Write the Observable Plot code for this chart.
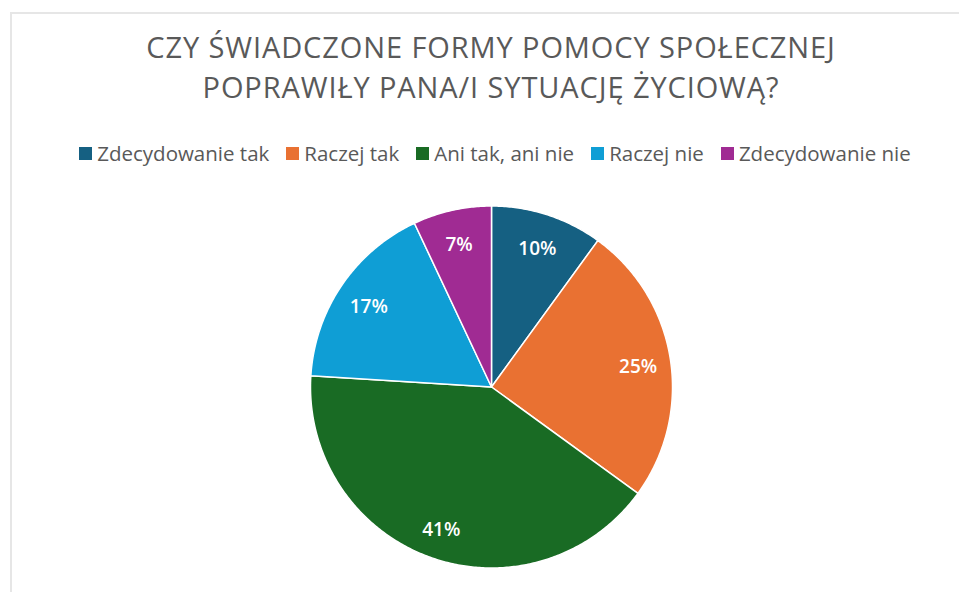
<!DOCTYPE html>
<html>
<head>
<meta charset="utf-8">
<script src="https://cdn.jsdelivr.net/npm/d3@7"></script>
<script src="https://cdn.jsdelivr.net/npm/@observablehq/plot@0.6"></script>
<style>
  html, body { margin: 0; padding: 0; background: #fff; width: 959px; height: 592px; overflow: hidden; }
  #frame { position: absolute; left: 10px; top: 12px; width: 1000px; height: 700px; border: 2px solid #e6e6e6; box-sizing: border-box; }
  #title { position: absolute; left: 0; top: 27px; width: 982px; text-align: center; font-family: "Open Sans", sans-serif; font-size: 29px; font-weight: 500; line-height: 40px; color: #595959; letter-spacing: 0.9px; }
  #legend { position: absolute; left: 0; top: 139px; width: 990px; display: flex; justify-content: center; font-family: "Open Sans", sans-serif; font-size: 20.5px; color: #595959; }
  .item { display: flex; align-items: center; margin: 0 8.5px; }
  .sw { width: 13px; height: 13px; margin-right: 5px; }
  #chart { position: absolute; left: 0; top: 185px; }
</style>
</head>
<body>
<div id="frame"></div>
<div id="title">CZY ŚWIADCZONE FORMY POMOCY SPOŁECZNEJ<br>POPRAWIŁY PANA/I SYTUACJĘ ŻYCIOWĄ?</div>
<div id="legend"></div>
<div id="chart"></div>
<script>
const categories = ["Zdecydowanie tak", "Raczej tak", "Ani tak, ani nie", "Raczej nie", "Zdecydowanie nie"];
const values = [10, 25, 41, 17, 7];
const colors = ["#156082", "#E97132", "#196B24", "#0F9ED5", "#A02B93"];

const data = categories.map((c, i) => ({category: c, value: values[i]}));

// Legend
const legend = document.getElementById("legend");
categories.forEach((c, i) => {
  const it = document.createElement("div");
  it.className = "item";
  it.innerHTML = `<div class="sw" style="background:${colors[i]}"></div><span>${c}</span>`;
  legend.appendChild(it);
});

// Pie geometry from d3.pie (clockwise from 12 o'clock)
const pie = d3.pie().sort(null).value(d => d.value)(data);
const toXY = (a, r) => [r * Math.sin(a), r * Math.cos(a)]; // y up (reflect-y projection)
const features = pie.map(p => {
  const n = Math.max(2, Math.ceil((p.endAngle - p.startAngle) / 0.01));
  const ring = [[0, 0]];
  for (let k = 0; k <= n; k++) {
    const a = p.startAngle + (p.endAngle - p.startAngle) * k / n;
    ring.push(toXY(a, 1));
  }
  ring.push([0, 0]);
  return {type: "Feature", properties: {category: p.data.category}, geometry: {type: "Polygon", coordinates: [ring]}};
});
const labelR = 0.82;
const labels = pie.map(p => {
  const a = (p.startAngle + p.endAngle) / 2;
  const [x, y] = toXY(a, labelR);
  return {x, y, text: p.data.value + "%"};
});

const H = 400;
const plot = Plot.plot({
  width: 959,
  height: H,
  marginLeft: 310,
  marginRight: 287,
  marginTop: 20.5,
  marginBottom: 17.5,
  projection: {type: "reflect-y", domain: {type: "MultiPoint", coordinates: [[-1, -1], [1, 1]]}},
  color: {domain: categories, range: colors},
  marks: [
    Plot.geo(features, {fill: d => d.properties.category, stroke: "white", strokeWidth: 1.5}),
    Plot.text(labels, {x: "x", y: "y", text: "text", dy: 3, fill: "white", fontSize: 19, fontWeight: 600, fontFamily: "Open Sans"})
  ]
});
document.getElementById("chart").appendChild(plot);
</script>
</body>
</html>
